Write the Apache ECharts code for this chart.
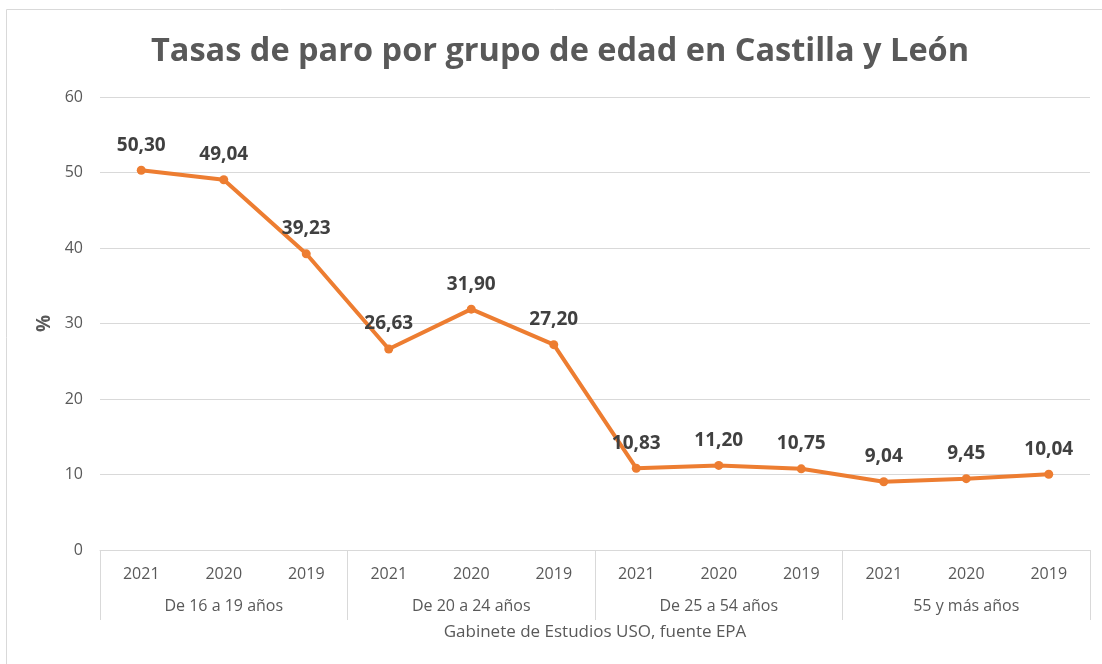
<!DOCTYPE html>
<html>
<head>
<meta charset="utf-8">
<script src="https://cdn.jsdelivr.net/npm/echarts@6/dist/echarts.min.js"></script>
<style>
    html, body { margin: 0; padding: 0; background: #fff; }
    #chart { width: 1102px; height: 664px; }
</style>
</head>
<body>
<div id="chart"></div>
<script>
// datos EPA, tasas de paro (%)
var years = ['2021', '2020', '2019', '2021', '2020', '2019', '2021', '2020', '2019', '2021', '2020', '2019'];
var groups = ['De 16 a 19 años', 'De 20 a 24 años', 'De 25 a 54 años', '55 y más años'];
var rates = [50.30, 49.04, 39.23, 26.63, 31.90, 27.20, 10.83, 11.20, 10.75, 9.04, 9.45, 10.04];
var yTicks = { min: 0, max: 60, step: 10 };

var font = 'Open Sans';
var chart = echarts.init(document.getElementById('chart'));

chart.setOption({
    animation: false,
    textStyle: { fontFamily: font },
    title: {
        text: 'Tasas de paro por grupo de edad en Castilla y León',
        left: 146,
        top: 30,
        textStyle: { fontSize: 32.5, fontWeight: 'bold', color: '#595959', fontFamily: font }
    },
    graphic: [{
        type: 'rect',
        silent: true,
        shape: { x: 6.5, y: 9.5, width: 1200, height: 800 },
        style: { fill: 'none', stroke: '#d9d9d9', lineWidth: 1 }
    }],
    grid: { left: 100, right: 12, top: 97, bottom: 114 },
    xAxis: [{
        type: 'category',
        data: years,
        boundaryGap: true,
        axisLine: { show: true, lineStyle: { color: '#d9d9d9' } },
        axisTick: { show: false },
        axisLabel: { margin: 16, fontSize: 16, color: '#595959' }
    }, {
        type: 'category',
        data: groups,
        position: 'bottom',
        boundaryGap: true,
        axisLine: { show: false },
        axisTick: { show: true, interval: 0, length: 70, lineStyle: { color: '#d9d9d9' } },
        axisLabel: { margin: 48, fontSize: 16, color: '#595959', interval: 0 },
        name: 'Gabinete de Estudios USO, fuente EPA',
        nameLocation: 'middle',
        nameGap: 74,
        nameTextStyle: { fontSize: 17, color: '#595959' }
    }],
    yAxis: {
        type: 'value',
        min: yTicks.min,
        max: yTicks.max,
        interval: yTicks.step,
        name: '%',
        nameLocation: 'middle',
        nameGap: 46,
        nameRotate: 90,
        nameTextStyle: { fontSize: 19, fontWeight: 'bold', color: '#595959' },
        axisLine: { show: false },
        axisTick: { show: false },
        axisLabel: { margin: 17, fontSize: 16, color: '#595959' },
        splitLine: { lineStyle: { color: '#d9d9d9' } }
    },
    series: [{
        name: 'Tasa de paro',
        type: 'line',
        xAxisIndex: 0,
        data: rates,
        symbol: 'circle',
        symbolSize: 9,
        itemStyle: { color: '#ed7d31' },
        lineStyle: { color: '#ed7d31', width: 4 },
        label: {
            show: true,
            position: 'top',
            distance: 11,
            fontSize: 19,
            fontWeight: 'bold',
            color: '#404040',
            formatter: function (p) { return p.value.toFixed(2).replace('.', ','); }
        }
    }]
});
</script>
</body>
</html>
